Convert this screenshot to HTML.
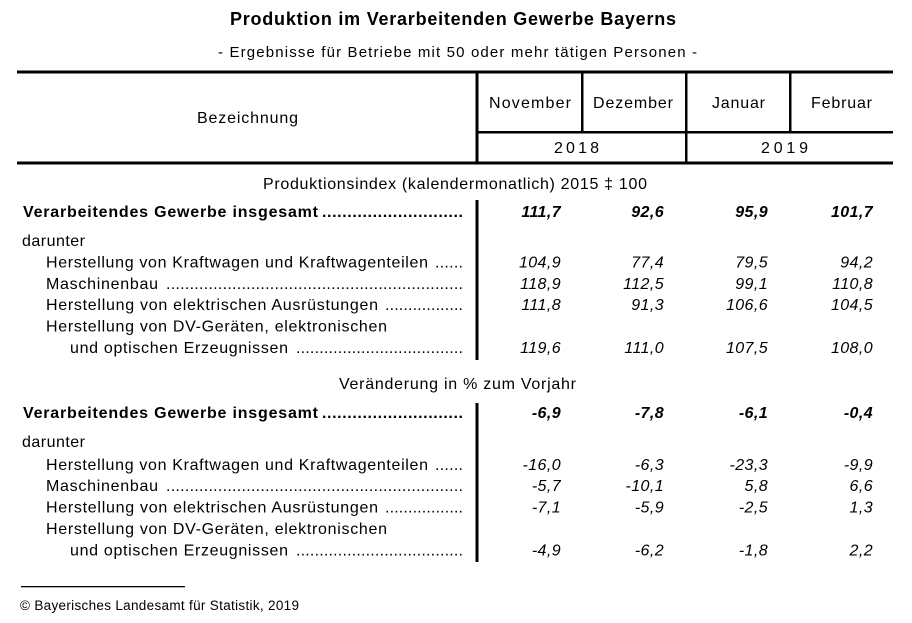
<!DOCTYPE html>
<html><head><meta charset="utf-8"><style>
html,body{margin:0;padding:0;background:#fff;}
svg{display:block;}
text{font-family:"Liberation Sans",Arial,sans-serif;fill:#000;}
.r{font-size:16px;}
.b{font-size:16px;font-weight:bold;}
.n{font-size:16px;font-style:italic;letter-spacing:0.4px;text-anchor:end;}
.nb{font-size:16px;font-style:italic;font-weight:bold;letter-spacing:0.4px;text-anchor:end;}
</style></head><body>
<svg width="912" height="623" viewBox="0 0 912 623" xmlns="http://www.w3.org/2000/svg">
<rect width="912" height="623" fill="#fff"/>
<text x="230" y="25" style="font-size:18px;font-weight:bold" textLength="446" lengthAdjust="spacing">Produktion im Verarbeitenden Gewerbe Bayerns</text>
<text x="218" y="57" class="r" style="font-size:15px" textLength="479" lengthAdjust="spacing">- Ergebnisse für Betriebe mit 50 oder mehr tätigen Personen -</text>

<!-- header rules -->
<rect x="17" y="70.5" width="876" height="3" fill="#000"/>
<rect x="17" y="161.5" width="876" height="3" fill="#000"/>
<rect x="477" y="131" width="416" height="2.5" fill="#000"/>
<rect x="475.5" y="72" width="3" height="91" fill="#000"/>
<rect x="581" y="72" width="2.5" height="60" fill="#000"/>
<rect x="685" y="72" width="2.5" height="91" fill="#000"/>
<rect x="789" y="72" width="2.5" height="60" fill="#000"/>

<text x="197" y="123" class="r" textLength="101" lengthAdjust="spacing">Bezeichnung</text>
<text x="489" y="108" class="r" textLength="82" lengthAdjust="spacing">November</text>
<text x="593" y="108" class="r" textLength="80" lengthAdjust="spacing">Dezember</text>
<text x="712" y="108" class="r" textLength="53" lengthAdjust="spacing">Januar</text>
<text x="811" y="108" class="r" textLength="61" lengthAdjust="spacing">Februar</text>
<text x="554" y="153" class="r" textLength="45" lengthAdjust="spacing">2018</text>
<text x="761" y="153" class="r" textLength="47" lengthAdjust="spacing">2019</text>

<!-- Section 1 -->
<text x="263" y="189" class="r" textLength="384" lengthAdjust="spacing">Produktionsindex (kalendermonatlich) 2015 ‡ 100</text>
<rect x="475.5" y="200" width="3" height="160" fill="#000"/>

<text x="23" y="217" class="b" textLength="295" lengthAdjust="spacing">Verarbeitendes Gewerbe insgesamt</text>
<text x="322" y="217" class="b" textLength="141" lengthAdjust="spacing">............................</text>
<text x="22" y="246" class="r" textLength="63" lengthAdjust="spacing">darunter</text>
<text x="46" y="267.5" class="r" textLength="382" lengthAdjust="spacing">Herstellung von Kraftwagen und Kraftwagenteilen</text>
<text x="435" y="267.5" class="r" textLength="28" lengthAdjust="spacing">......</text>
<text x="46" y="289" class="r" textLength="112" lengthAdjust="spacing">Maschinenbau</text>
<text x="166" y="289" class="r" textLength="297" lengthAdjust="spacing">...............................................................</text>
<text x="46" y="310" class="r" textLength="332" lengthAdjust="spacing">Herstellung von elektrischen Ausrüstungen</text>
<text x="385" y="310" class="r" textLength="78" lengthAdjust="spacing">.................</text>
<text x="46" y="331.5" class="r" textLength="341" lengthAdjust="spacing">Herstellung von DV-Geräten, elektronischen</text>
<text x="70" y="353" class="r" textLength="218" lengthAdjust="spacing">und optischen Erzeugnissen</text>
<text x="296" y="353" class="r" textLength="167" lengthAdjust="spacing">....................................</text>

<text x="561" y="217" class="nb">111,7</text>
<text x="664" y="217" class="nb">92,6</text>
<text x="768" y="217" class="nb">95,9</text>
<text x="873" y="217" class="nb">101,7</text>

<text x="561" y="267.5" class="n">104,9</text>
<text x="664" y="267.5" class="n">77,4</text>
<text x="768" y="267.5" class="n">79,5</text>
<text x="873" y="267.5" class="n">94,2</text>

<text x="561" y="289" class="n">118,9</text>
<text x="664" y="289" class="n">112,5</text>
<text x="768" y="289" class="n">99,1</text>
<text x="873" y="289" class="n">110,8</text>

<text x="561" y="310" class="n">111,8</text>
<text x="664" y="310" class="n">91,3</text>
<text x="768" y="310" class="n">106,6</text>
<text x="873" y="310" class="n">104,5</text>

<text x="561" y="353" class="n">119,6</text>
<text x="664" y="353" class="n">111,0</text>
<text x="768" y="353" class="n">107,5</text>
<text x="873" y="353" class="n">108,0</text>

<!-- Section 2 -->
<text x="339" y="389" class="r" textLength="237" lengthAdjust="spacing">Veränderung in % zum Vorjahr</text>
<rect x="475.5" y="403" width="3" height="159" fill="#000"/>

<text x="23" y="418" class="b" textLength="295" lengthAdjust="spacing">Verarbeitendes Gewerbe insgesamt</text>
<text x="322" y="418" class="b" textLength="141" lengthAdjust="spacing">............................</text>
<text x="22" y="447" class="r" textLength="63" lengthAdjust="spacing">darunter</text>
<text x="46" y="470" class="r" textLength="382" lengthAdjust="spacing">Herstellung von Kraftwagen und Kraftwagenteilen</text>
<text x="435" y="470" class="r" textLength="28" lengthAdjust="spacing">......</text>
<text x="46" y="491" class="r" textLength="112" lengthAdjust="spacing">Maschinenbau</text>
<text x="166" y="491" class="r" textLength="297" lengthAdjust="spacing">...............................................................</text>
<text x="46" y="512.5" class="r" textLength="332" lengthAdjust="spacing">Herstellung von elektrischen Ausrüstungen</text>
<text x="385" y="512.5" class="r" textLength="78" lengthAdjust="spacing">.................</text>
<text x="46" y="534" class="r" textLength="341" lengthAdjust="spacing">Herstellung von DV-Geräten, elektronischen</text>
<text x="70" y="555.5" class="r" textLength="218" lengthAdjust="spacing">und optischen Erzeugnissen</text>
<text x="296" y="555.5" class="r" textLength="167" lengthAdjust="spacing">....................................</text>

<text x="561" y="418" class="nb">-6,9</text>
<text x="664" y="418" class="nb">-7,8</text>
<text x="768" y="418" class="nb">-6,1</text>
<text x="873" y="418" class="nb">-0,4</text>

<text x="561" y="470" class="n">-16,0</text>
<text x="664" y="470" class="n">-6,3</text>
<text x="768" y="470" class="n">-23,3</text>
<text x="873" y="470" class="n">-9,9</text>

<text x="561" y="491" class="n">-5,7</text>
<text x="664" y="491" class="n">-10,1</text>
<text x="768" y="491" class="n">5,8</text>
<text x="873" y="491" class="n">6,6</text>

<text x="561" y="512.5" class="n">-7,1</text>
<text x="664" y="512.5" class="n">-5,9</text>
<text x="768" y="512.5" class="n">-2,5</text>
<text x="873" y="512.5" class="n">1,3</text>

<text x="561" y="555.5" class="n">-4,9</text>
<text x="664" y="555.5" class="n">-6,2</text>
<text x="768" y="555.5" class="n">-1,8</text>
<text x="873" y="555.5" class="n">2,2</text>

<!-- footnote -->
<rect x="21" y="586" width="164" height="1.3" fill="#000"/>
<text x="20" y="610" style="font-size:13.5px" textLength="279" lengthAdjust="spacing">© Bayerisches Landesamt für Statistik, 2019</text>
</svg>
</body></html>
